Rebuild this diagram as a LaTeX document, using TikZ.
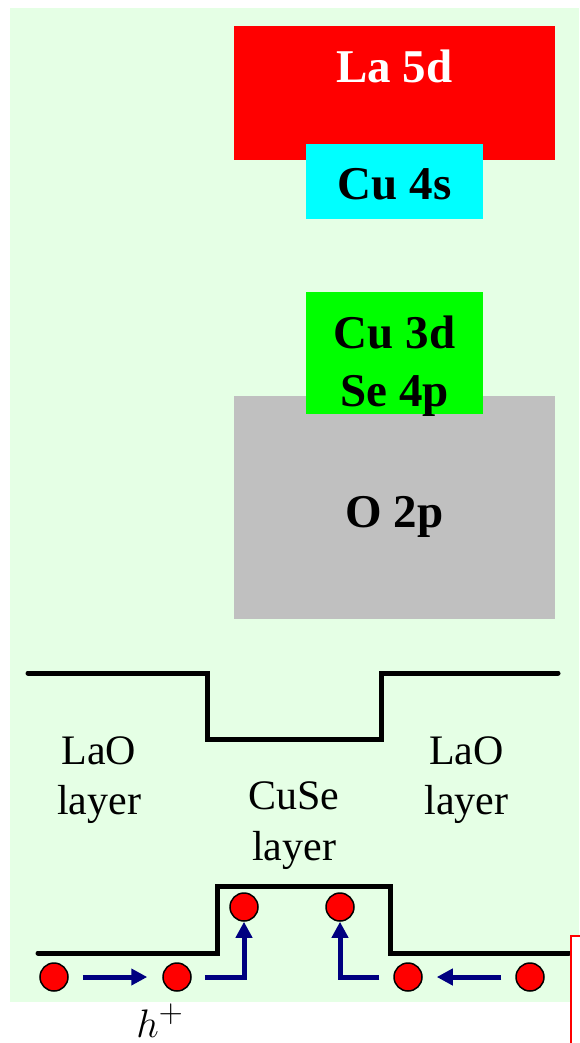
\documentclass[tikz,border=0pt]{standalone}
\usepackage{fontspec}
\setmainfont{Liberation Serif}
\usetikzlibrary{arrows.meta}
\definecolor{bgreen}{RGB}{229,255,229}
\definecolor{navyc}{RGB}{0,0,128}
\definecolor{grayb}{RGB}{192,192,192}
\definecolor{limeb}{RGB}{0,255,0}
\definecolor{cyanb}{RGB}{0,255,255}
\begin{document}
\begin{tikzpicture}[x=1pt,y=-1pt,
  band/.style={draw=none, inner sep=0pt, outer sep=0pt},
  bigbold/.style={font=\fontsize{47}{56}\selectfont\bfseries, anchor=base, inner sep=0pt},
  layertxt/.style={font=\fontsize{42}{50}\selectfont, anchor=base, inner sep=0pt},
  profile/.style={line width=5pt, line cap=round, line join=miter},
  hole/.style={circle, fill=red, draw=black, line width=1.5pt, minimum size=28pt, inner sep=0pt},
  hop/.style={navyc, line width=5pt, -{Triangle[length=16pt,width=16pt]}}
]
\useasboundingbox (0,0) rectangle (579,1043);
% background
\path[fill=bgreen] (10,8) rectangle (579,1002);
% energy bands
\node[band, fill=red, minimum width=321pt, minimum height=134pt] (la) at (394.5,93) {};
\node[band, fill=cyanb, minimum width=177pt, minimum height=75pt] (cu4s) at (394.5,181.5) {};
\node[band, fill=grayb, minimum width=321pt, minimum height=223pt] (o2p) at (394.5,507.5) {};
\node[band, fill=limeb, minimum width=177pt, minimum height=122pt] (cu3d) at (394.5,353) {};
\node[bigbold, text=white] (tla) at (394.5,83) {La 5d};
\node[bigbold] (tcu4s) at (394.5,200) {Cu 4s};
\node[bigbold] (tcu3d) at (394.5,348) {Cu 3d};
\node[bigbold] (tse4p) at (394.5,406) {Se 4p};
\node[bigbold] (to2p) at (394.5,527) {O 2p};
% conduction profile
\draw[profile] (28,673) -- (207,673) -- (207,739) -- (381,739) -- (381,673) -- (558,673);
% labels
\node[layertxt] (lao1) at (99,764) {LaO};
\node[layertxt] (lay1) at (99,814) {layer};
\node[layertxt] (cuse) at (294,809) {CuSe};
\node[layertxt] (lay2) at (294,860) {layer};
\node[layertxt] (lao2) at (466.5,764) {LaO};
\node[layertxt] (lay3) at (466.5,814) {layer};
% valence profile
\draw[profile] (38,953) -- (217,953) -- (217,886) -- (390,886) -- (390,953) -- (569,953);
% holes
\node[hole] (c1) at (54,977) {};
\node[hole] (c2) at (177,977) {};
\node[hole] (u1) at (244,907) {};
\node[hole] (u2) at (340,907) {};
\node[hole] (c3) at (408,977) {};
\node[hole] (c4) at (530,977) {};
\draw[hop] ([xshift=14pt]c1.east) -- ([xshift=-15pt]c2.west);
\draw[hop] ([xshift=13pt]c2.east) -| (u1.south);
\draw[hop] ([xshift=-14pt]c3.west) -| (u2.south);
\draw[hop] ([xshift=-14pt]c4.west) -- ([xshift=14pt]c3.east);
\node[font=\Huge, scale=1.6, anchor=base, inner sep=0pt] (hp) at (160,1037) {$h^+$};
% partial red frame at bottom right
\path[fill=white] (571,936) rectangle (579,1043);
\draw[red, line width=2pt] (580,936) -- (571,936) -- (571,1044);
\end{tikzpicture}
\end{document}
